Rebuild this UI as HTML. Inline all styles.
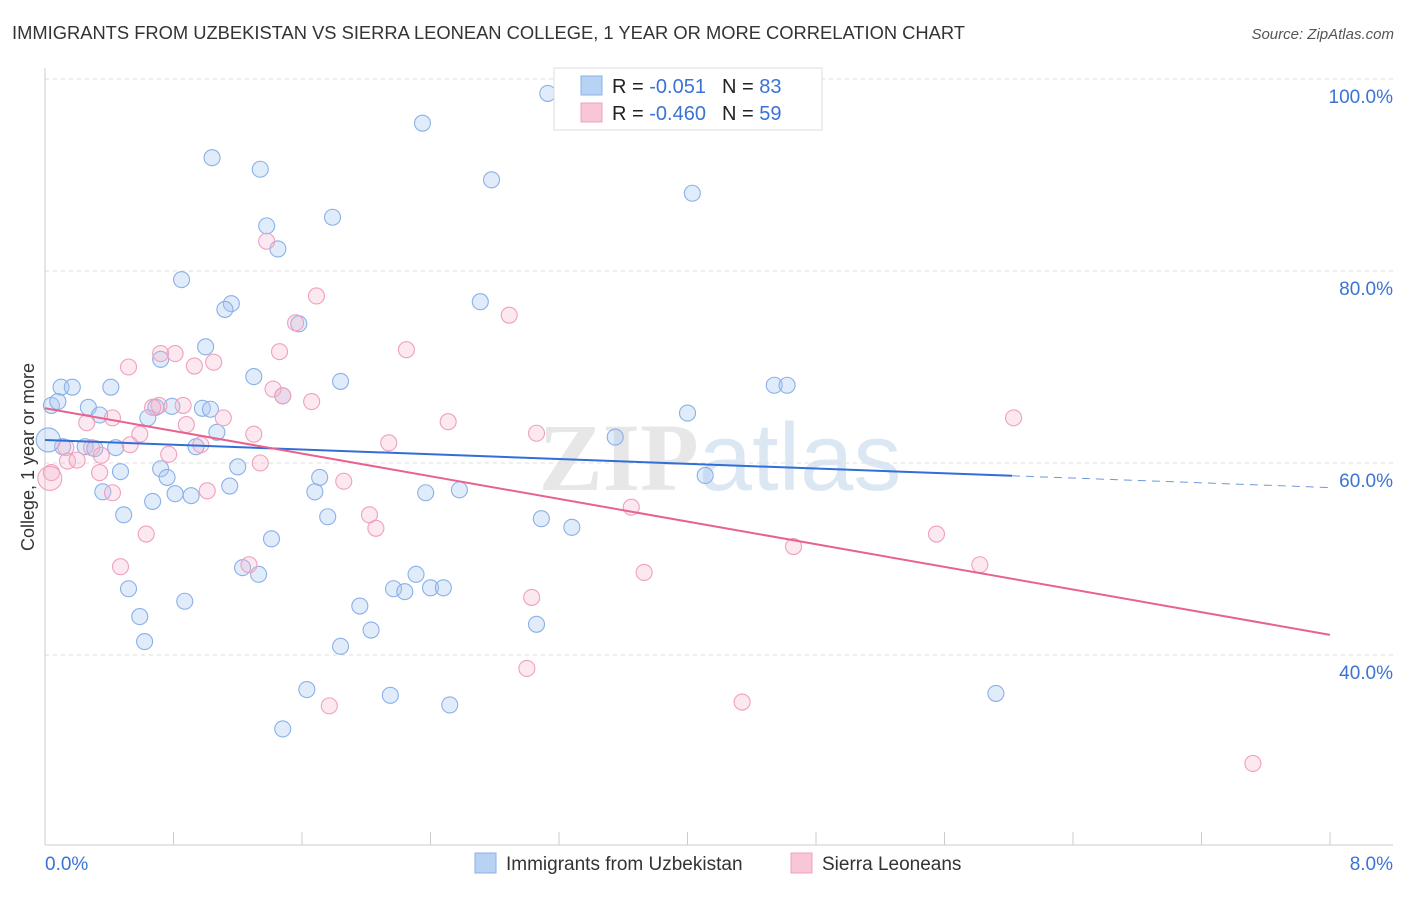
<!DOCTYPE html>
<html><head><meta charset="utf-8"><style>
body{margin:0;background:#fff;font-family:"Liberation Sans",sans-serif;}
svg text{font-family:"Liberation Sans",sans-serif;}
</style></head><body>
<svg id="chart" width="1406" height="892" xmlns="http://www.w3.org/2000/svg">
<text x="12" y="39" font-size="18" fill="#333" textLength="953" lengthAdjust="spacingAndGlyphs">IMMIGRANTS FROM UZBEKISTAN VS SIERRA LEONEAN COLLEGE, 1 YEAR OR MORE CORRELATION CHART</text>
<text x="1394" y="39" font-size="15" fill="#555" font-style="italic" text-anchor="end">Source: ZipAtlas.com</text>
<text x="720" y="490" font-size="96" text-anchor="middle" fill="#d8d8d8" opacity="0.6"><tspan font-family="Liberation Serif" font-weight="bold">ZIP</tspan><tspan fill="#c5d8ee">atlas</tspan></text>
<g id="grid"></g>
<g id="axes"></g>
<g id="points"></g>
<g id="trends"></g>
<g>
<rect x="554" y="68" width="268" height="62" fill="#fff" stroke="#ddd"/>
<rect x="581" y="76" width="21" height="19" fill="#b8d2f4" stroke="#8ab0e8"/>
<rect x="581" y="103" width="21" height="19" fill="#f9c6d6" stroke="#f0a0bc"/>
<text x="612" y="93" font-size="20" fill="#222">R = <tspan fill="#3b73d4"> -0.051</tspan><tspan dx="16" fill="#222">N = </tspan><tspan fill="#3b73d4">83</tspan></text>
<text x="612" y="120" font-size="20" fill="#222">R = <tspan fill="#3b73d4">-0.460</tspan><tspan dx="16" fill="#222">N = </tspan><tspan fill="#3b73d4">59</tspan></text>
</g>
<text transform="translate(34,457) rotate(-90)" font-size="18" fill="#333" text-anchor="middle">College, 1 year or more</text>
<g>
<rect x="475" y="853" width="21" height="20" fill="#b8d2f4" stroke="#8ab0e8"/>
<text x="506" y="870" font-size="19" fill="#333">Immigrants from Uzbekistan</text>
<rect x="791" y="853" width="21" height="20" fill="#f9c6d6" stroke="#f0a0bc"/>
<text x="822" y="870" font-size="19" fill="#333">Sierra Leoneans</text>
</g>
</svg>
<script>
const yTicks=[40,60,80,100];
const xTickLabels=["0.0%","8.0%"];
const blueX=[3.13,2.35,1.04,1.34,2.78,4.03,1.79,1.38,1.45,0.85,2.71,1.16,1.12,1.58,1.00,0.72,1.30,1.84,0.10,0.17,0.41,4.54,4.62,1.48,0.04,0.08,0.27,0.79,0.69,0.98,1.03,0.34,0.64,4.00,1.07,3.55,0.11,0.25,0.31,0.44,0.94,1.20,0.72,0.47,0.76,1.71,4.11,1.15,0.81,0.36,0.91,1.68,2.37,2.58,0.67,0.49,1.76,3.09,3.28,1.41,1.23,1.33,2.31,0.52,2.17,2.24,2.40,2.48,0.87,1.96,0.59,3.06,2.03,0.62,1.84,1.63,2.15,5.92,2.52,1.48,0.02];
const blueY=[98.5,95.4,91.8,90.6,89.5,88.1,85.6,84.7,82.3,79.1,76.8,76.6,76.0,74.5,72.1,70.8,69.0,68.5,67.9,67.9,67.9,68.1,68.1,67.0,66.0,66.4,65.8,65.9,65.8,65.7,65.6,65.0,64.7,65.2,63.2,62.7,61.7,61.7,61.5,61.6,61.7,59.6,59.4,59.1,58.5,58.5,58.7,57.6,56.8,57.0,56.6,57.0,56.9,57.2,56.0,54.6,54.4,54.2,53.3,52.1,49.1,48.4,48.4,46.9,46.9,46.6,47.0,47.0,45.6,45.1,44.0,43.2,42.6,41.4,40.9,36.4,35.8,36.0,34.8,32.3,62.4];
const pinkX=[1.38,1.69,2.89,1.56,2.25,1.46,0.72,0.81,1.05,0.93,0.52,1.42,1.48,1.66,0.71,0.67,0.86,0.42,0.26,0.88,1.11,2.51,1.30,0.59,3.06,2.14,0.53,0.97,0.13,0.29,6.03,0.35,1.34,0.14,0.20,0.77,0.04,0.34,1.86,0.42,1.01,3.65,2.02,2.06,0.63,5.55,4.66,0.47,1.27,5.82,3.73,3.03,3.00,1.77,4.34,7.52,0.03];
const pinkY=[83.1,77.4,75.4,74.6,71.8,71.6,71.4,71.4,70.5,70.1,70.0,67.7,67.0,66.4,66.0,65.8,66.0,64.7,64.2,64.0,64.7,64.3,63.0,63.0,63.1,62.1,61.9,61.9,61.6,61.6,64.7,60.8,60.0,60.2,60.3,60.9,59.0,59.0,58.1,56.9,57.1,55.4,54.6,53.2,52.6,52.6,51.3,49.2,49.4,49.4,48.6,46.0,38.6,34.7,35.1,28.7,58.4];
const blueTrend=[62.4,-0.62];
const pinkTrend=[65.7,-2.95];
const blueSolidEnd=6.02;
const NS="http://www.w3.org/2000/svg";
const X=v=>45+v/8*1285, Y=v=>79+(100-v)/20*192;
function mk(t,a,p){const e=document.createElementNS(NS,t);for(const k in a)e.setAttribute(k,a[k]);p.appendChild(e);return e;}
const grid=document.getElementById('grid'),axes=document.getElementById('axes'),pts=document.getElementById('points'),tr=document.getElementById('trends');
yTicks.forEach(v=>{
 const l=mk('line',{x1:45,x2:1393,y1:Y(v),y2:Y(v),stroke:'#ddd','stroke-dasharray':'4,4'},grid);
 
 
 const t=mk('text',{x:1393,y:Y(v)+24,'font-size':19,fill:'#3b73d4','text-anchor':'end'},grid);
 t.textContent=v.toFixed(1)+'%';
 
 
});
mk('line',{x1:45,x2:45,y1:68,y2:845,stroke:'#ccc'},axes);
mk('line',{x1:45,x2:1393,y1:845,y2:845,stroke:'#ccc'},axes);
for(let i=0;i<=10;i++){const tk=mk('line',{x1:X(i*0.8),x2:X(i*0.8),y1:832,y2:845,stroke:'#ccc'},axes);
 
 }
const xl0=mk('text',{x:45,y:870,'font-size':19,fill:'#3b73d4'},axes);xl0.textContent=xTickLabels[0];


const xl1=mk('text',{x:1393,y:870,'font-size':19,fill:'#3b73d4','text-anchor':'end'},axes);xl1.textContent=xTickLabels[1];


function draw(xs,ys,fill,stroke,name){xs.forEach((x,i)=>{const big=i===xs.length-1;
 const c=mk('circle',{cx:X(x),cy:Y(ys[i]),r:big?12:8,fill:fill,stroke:stroke,'stroke-width':1.1},pts);
 
 });}
draw(blueX,blueY,'rgba(170,200,242,0.35)','#8ab0e8','point-uzbekistan');
draw(pinkX,pinkY,'rgba(246,180,204,0.3)','#f0a0bc','point-sierra-leonean');
const f=(t,x)=>t[0]+t[1]*x;
const b1=mk('line',{x1:X(0),y1:Y(f(blueTrend,0)),x2:X(blueSolidEnd),y2:Y(f(blueTrend,blueSolidEnd)),stroke:'#2f6fd6','stroke-width':2},tr);


const b2=mk('line',{x1:X(blueSolidEnd),y1:Y(f(blueTrend,blueSolidEnd)),x2:X(8),y2:Y(f(blueTrend,8)),stroke:'#6f98dc','stroke-width':1,'stroke-dasharray':'8,6'},tr);


const p1=mk('line',{x1:X(0),y1:Y(f(pinkTrend,0)),x2:X(8),y2:Y(f(pinkTrend,8)),stroke:'#e8628f','stroke-width':2},tr);


</script>
</body></html>
